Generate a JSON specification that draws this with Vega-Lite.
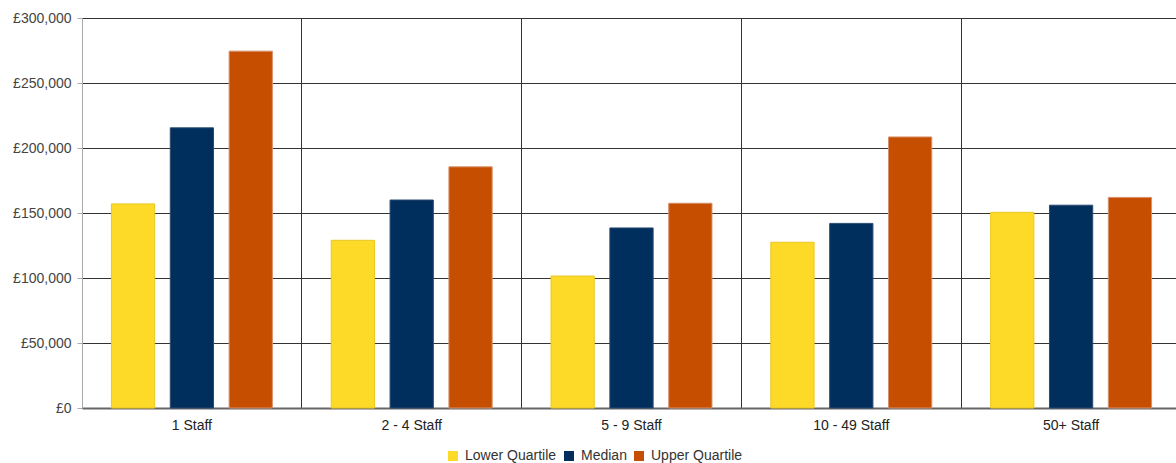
{
  "$schema": "https://vega.github.io/schema/vega-lite/v6.json",
  "width": 1099,
  "height": 390,
  "autosize": {"type": "none"},
  "padding": {"left": 82, "top": 18, "right": 0, "bottom": 55},
  "background": "white",
  "config": {
    "view": {"stroke": null},
    "font": "Liberation Sans"
  },
  "data": {
    "values": [
      {"category": "1 Staff", "series": "Lower Quartile", "value": 157000},
      {"category": "1 Staff", "series": "Median", "value": 215500},
      {"category": "1 Staff", "series": "Upper Quartile", "value": 274500},
      {"category": "2 - 4 Staff", "series": "Lower Quartile", "value": 129000},
      {"category": "2 - 4 Staff", "series": "Median", "value": 160000},
      {"category": "2 - 4 Staff", "series": "Upper Quartile", "value": 185500},
      {"category": "5 - 9 Staff", "series": "Lower Quartile", "value": 101500},
      {"category": "5 - 9 Staff", "series": "Median", "value": 138500},
      {"category": "5 - 9 Staff", "series": "Upper Quartile", "value": 157500},
      {"category": "10 - 49 Staff", "series": "Lower Quartile", "value": 127500},
      {"category": "10 - 49 Staff", "series": "Median", "value": 142000},
      {"category": "10 - 49 Staff", "series": "Upper Quartile", "value": 208500},
      {"category": "50+ Staff", "series": "Lower Quartile", "value": 150500},
      {"category": "50+ Staff", "series": "Median", "value": 156000},
      {"category": "50+ Staff", "series": "Upper Quartile", "value": 162000}
    ]
  },
  "mark": {"type": "bar", "strokeWidth": 1},
  "encoding": {
    "x": {
      "field": "category",
      "type": "nominal",
      "sort": ["1 Staff", "2 - 4 Staff", "5 - 9 Staff", "10 - 49 Staff", "50+ Staff"],
      "scale": {"paddingInner": 0, "paddingOuter": 0},
      "axis": {
        "title": null,
        "labelAngle": 0,
        "grid": true,
        "gridColor": "#333333",
        "gridWidth": 1,
        "bandPosition": 0,
        "ticks": false,
        "domainColor": "#666666",
        "domainWidth": 2,
        "labelFontSize": 14,
        "labelColor": "#222222",
        "labelPadding": 10
      }
    },
    "xOffset": {
      "field": "series",
      "type": "nominal",
      "sort": ["Lower Quartile", "Median", "Upper Quartile"],
      "scale": {"paddingInner": 0.265, "paddingOuter": 0.5}
    },
    "y": {
      "field": "value",
      "type": "quantitative",
      "scale": {"domain": [0, 300000], "nice": false},
      "axis": {
        "title": null,
        "values": [0, 50000, 100000, 150000, 200000, 250000, 300000],
        "labelExpr": "'£' + format(datum.value, ',')",
        "grid": true,
        "gridColor": "#333333",
        "gridWidth": 1,
        "domainColor": "#aaaaaa",
        "tickColor": "#aaaaaa",
        "tickSize": 5,
        "labelPadding": 6,
        "labelFontSize": 14,
        "labelColor": "#444444"
      }
    },
    "color": {
      "field": "series",
      "type": "nominal",
      "sort": ["Lower Quartile", "Median", "Upper Quartile"],
      "scale": {
        "domain": ["Lower Quartile", "Median", "Upper Quartile"],
        "range": ["#FCDA27", "#002E5D", "#C54E00"]
      },
      "legend": {
        "title": null,
        "orient": "none",
        "direction": "horizontal",
        "legendX": 364,
        "legendY": 431,
        "symbolType": "square",
        "symbolSize": 100,
        "symbolStrokeWidth": 0,
        "labelFontSize": 14,
        "labelColor": "#333333",
        "labelOffset": 5,
        "columnPadding": 5
      }
    },
    "stroke": {
      "field": "series",
      "type": "nominal",
      "scale": {
        "domain": ["Lower Quartile", "Median", "Upper Quartile"],
        "range": ["#E9C723", "#2B4B72", "#D8906A"]
      },
      "legend": null
    }
  }
}
